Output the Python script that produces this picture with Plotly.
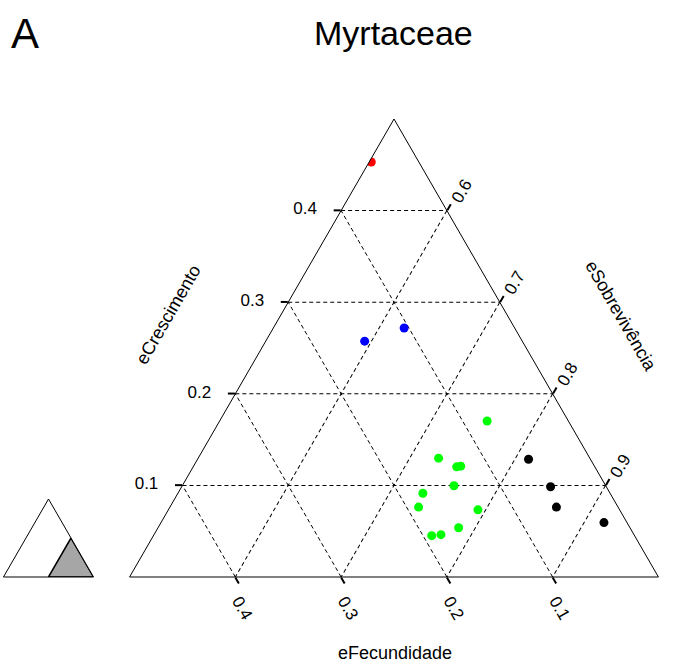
import plotly.graph_objects as go

# eCrescimento (a), eFecundidade (b), eSobrevivência (c)
red_a = [0.453]
red_b = [0.045]
blue_a = [0.2575, 0.2718]
blue_b = [0.149, 0.1045]
green_a = [0.1703, 0.1297, 0.1203, 0.121, 0.0996, 0.0914, 0.0763, 0.0733, 0.0538, 0.0451, 0.0462]
green_b = [0.0768, 0.143, 0.1306, 0.1264, 0.1435, 0.177, 0.1886, 0.134, 0.162, 0.1918, 0.1825]
black_a = [0.1286, 0.0985, 0.0763, 0.0594]
black_b = [0.0585, 0.0527, 0.0583, 0.0218]

a_ticks = [0.1, 0.2, 0.3, 0.4]
b_ticks = [0.1, 0.2, 0.3, 0.4]
c_ticks = [0.6, 0.7, 0.8, 0.9]

# zoom region shown in the inset
zoom_a = [0.5, 0.0, 0.0, 0.5]
zoom_b = [0.0, 0.5, 0.0, 0.0]

W, H = 681, 666
FONT = "Liberation Sans, Arial, sans-serif"

fig = go.Figure()

series = [
    (red_a, red_b, "#FF0000"),
    (blue_a, blue_b, "#0000FF"),
    (green_a, green_b, "#00FF00"),
    (black_a, black_b, "#000000"),
]
for aa, bb, col in series:
    cc = [round(1 - x - y, 4) for x, y in zip(aa, bb)]
    fig.add_trace(go.Scatterternary(
        a=aa, b=bb, c=cc, mode="markers",
        marker=dict(color=col, size=9, line=dict(width=0)),
        subplot="ternary", showlegend=False,
    ))

zc = [round(1 - x - y, 4) for x, y in zip(zoom_a, zoom_b)]
fig.add_trace(go.Scatterternary(
    a=zoom_a, b=zoom_b, c=zc, mode="lines", fill="toself",
    fillcolor="#A6A6A6", line=dict(color="black", width=1.5),
    subplot="ternary2", showlegend=False, hoverinfo="skip",
))


def axis(ticks, mn):
    return dict(
        min=mn, tickmode="array", tickvals=ticks,
        ticktext=[f"{t:.1f}" for t in ticks],
        showgrid=True, gridcolor="black", gridwidth=1, griddash="4px,3px",
        linecolor="black", linewidth=1, showline=True,
        ticks="outside", ticklen=7, tickwidth=2, tickcolor="black",
        tickfont=dict(family=FONT, size=17, color="black"),
        title=dict(text=""),
    )


aax = axis(a_ticks, 0)
aax["ticktext"] = [f"{t:.1f}\u00a0\u00a0\u00a0" for t in a_ticks]
bax = axis(b_ticks, 0)
bax["tickangle"] = 60
cax = axis(c_ticks, 0.5)
cax["tickangle"] = -60

base_px, top_px = 577, 119
x0, x1 = 125, 663

inset = dict(showgrid=False, showticklabels=False, ticks="", linecolor="black",
             linewidth=1, showline=True, title=dict(text=""))


def ann(text, x, y, size, angle=0):
    return dict(text=text, x=x / W, y=1 - y / H, xref="paper", yref="paper",
                xanchor="center", yanchor="middle", showarrow=False,
                textangle=angle, font=dict(family=FONT, size=size, color="black"))


fig.update_layout(
    width=W, height=H,
    margin=dict(l=0, r=0, t=0, b=0),
    paper_bgcolor="white", plot_bgcolor="white",
    ternary=dict(
        sum=1, bgcolor="white",
        domain=dict(x=[x0 / W, x1 / W], y=[(H - base_px) / H, (H - top_px) / H]),
        aaxis=aax, baxis=bax, caxis=cax,
    ),
    ternary2=dict(
        sum=1, bgcolor="white",
        domain=dict(x=[0, 97 / W], y=[(H - 577) / H, (H - 499) / H]),
        aaxis=inset, baxis=inset, caxis=inset,
    ),
    annotations=[
        ann("Myrtaceae", 393, 33, 34),
        ann("A", 25, 34, 42),
        ann("eCrescimento", 168, 315, 18, -60),
        ann("eSobrevivência", 621, 316, 18, 60),
        ann("eFecundidade", 395, 653, 18),
    ],
)

fig.write_html("out.html")
